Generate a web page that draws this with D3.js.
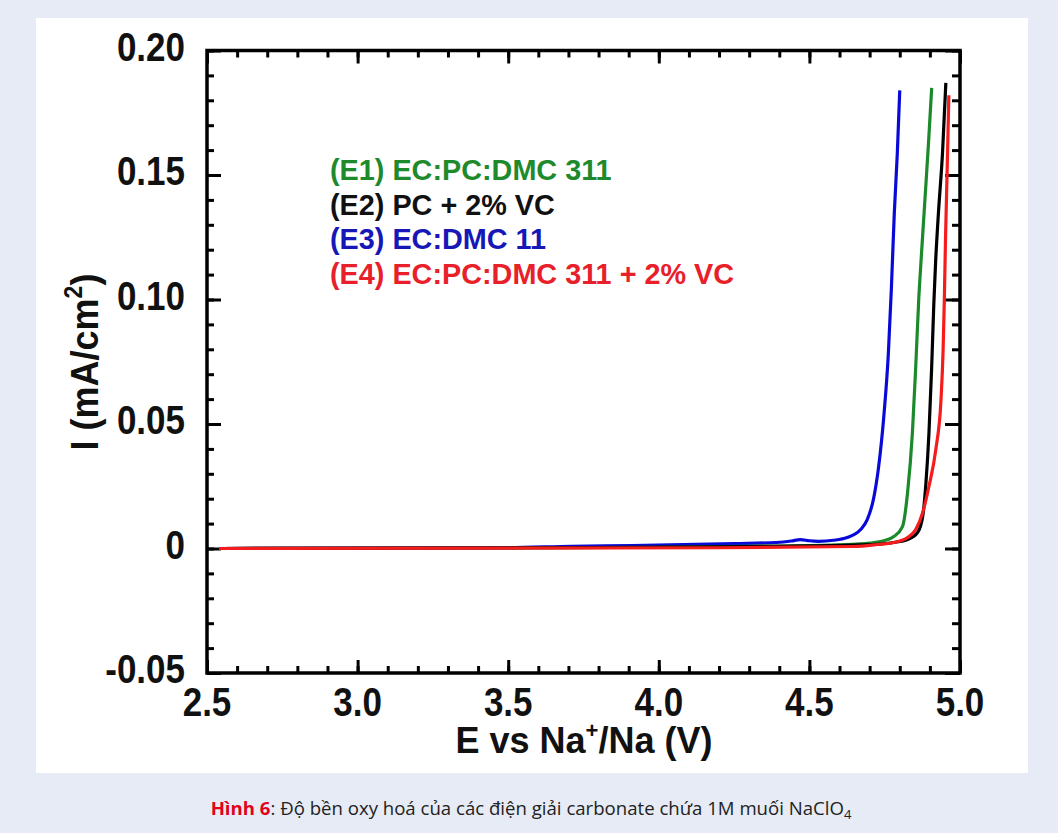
<!DOCTYPE html>
<html>
<head>
<meta charset="utf-8">
<script src="https://cdn.jsdelivr.net/npm/d3@7"></script>
<style>
  body { margin: 0; background: #e6ebf5; }
  svg { display: block; }
</style>
</head>
<body>
<svg id="chart" width="1058" height="833"></svg>
<script>
// datos (E en V, I en mA/cm2)
const e1E = [2.55, 3.5, 4.0, 4.4, 4.6, 4.70, 4.737, 4.78, 4.809, 4.826, 4.842, 4.853, 4.863, 4.872, 4.883, 4.896, 4.906];
const e1I = [0, 0.0002, 0.0005, 0.001, 0.0015, 0.0022, 0.0028, 0.0048, 0.0088, 0.0225, 0.0465, 0.073, 0.100, 0.118, 0.139, 0.164, 0.185];

const e2E = [2.55, 3.8, 4.3, 4.703, 4.78, 4.826, 4.859, 4.876, 4.887, 4.897, 4.906, 4.913, 4.919, 4.928, 4.942, 4.953];
const e2I = [0, 0.0004, 0.0008, 0.0016, 0.0024, 0.0036, 0.0064, 0.0128, 0.0265, 0.0465, 0.073, 0.098, 0.115, 0.134, 0.159, 0.187];

const e3E = [2.55, 3.5, 3.71, 3.91, 4.25, 4.39, 4.44, 4.47, 4.50, 4.53, 4.58, 4.625, 4.67, 4.692, 4.713, 4.73, 4.747, 4.762, 4.772, 4.782, 4.792, 4.800];
const e3I = [0, 0.0003, 0.0009, 0.0012, 0.0020, 0.0024, 0.0030, 0.0036, 0.0031, 0.0029, 0.0033, 0.0044, 0.0076, 0.0116, 0.020, 0.033, 0.053, 0.078, 0.104, 0.135, 0.159, 0.184];

const e4E = [2.54, 4.2, 4.647, 4.726, 4.78, 4.826, 4.853, 4.876, 4.897, 4.920, 4.937, 4.944, 4.948, 4.952, 4.957, 4.963];
const e4I = [0, 0.0003, 0.0008, 0.0016, 0.0024, 0.0044, 0.0076, 0.0144, 0.025, 0.040, 0.060, 0.080, 0.100, 0.125, 0.150, 0.182];

const xTicks = [2.5, 3.0, 3.5, 4.0, 4.5, 5.0];
const xTickLabels = ["2.5", "3.0", "3.5", "4.0", "4.5", "5.0"];
const yTicks = [-0.05, 0, 0.05, 0.10, 0.15, 0.20];
const yTickLabels = ["-0.05", "0", "0.05", "0.10", "0.15", "0.20"];

const legendLabels = [
  "(E1) EC:PC:DMC 311",
  "(E2) PC + 2% VC",
  "(E3) EC:DMC 11",
  "(E4) EC:PC:DMC 311 + 2% VC"
];
const legendColors = ["#1f8a2c", "#111111", "#1717b8", "#e8202a"];

// orden de dibujo: azul, verde, negro, rojo (rojo encima)
const series = [
  { E: e3E, I: e3I, color: "#0a0ad8" },
  { E: e1E, I: e1I, color: "#1b8a2a" },
  { E: e2E, I: e2I, color: "#000000" },
  { E: e4E, I: e4I, color: "#f41c1c" }
];

const svg = d3.select("#chart");
const font = "'Liberation Sans', Arial, Helvetica, sans-serif";

svg.append("rect").attr("width", 1058).attr("height", 833).attr("fill", "#e6ebf5");
svg.append("rect").attr("x", 36).attr("y", 18).attr("width", 992).attr("height", 755).attr("fill", "#ffffff");

const x = d3.scaleLinear().domain([2.5, 5.0]).range([207, 960]);
const y = d3.scaleLinear().domain([-0.05, 0.20]).range([673, 50.5]);

const xMinor = d3.range(25, 51).map((d) => d / 10);
const yMinor = d3.range(-5, 21).map((d) => d / 100);

function tickAxis(axis, tx, ty) {
  const g = svg.append("g").attr("transform", `translate(${tx},${ty})`).call(axis);
  g.select(".domain").remove();
  g.selectAll("line").attr("stroke", "#000").attr("stroke-width", 3);
  return g;
}

// ticks hacia adentro en los cuatro lados
tickAxis(d3.axisBottom(x).tickValues(xMinor).tickSize(-7).tickFormat(""), 0, y(-0.05));
tickAxis(d3.axisBottom(x).tickValues(xTicks).tickSize(-13).tickFormat(""), 0, y(-0.05));
tickAxis(d3.axisTop(x).tickValues(xMinor).tickSize(-7).tickFormat(""), 0, y(0.20));
tickAxis(d3.axisTop(x).tickValues(xTicks).tickSize(-13).tickFormat(""), 0, y(0.20));
tickAxis(d3.axisLeft(y).tickValues(yMinor).tickSize(-7).tickFormat(""), x(2.5), 0);
tickAxis(d3.axisLeft(y).tickValues(yTicks).tickSize(-14).tickFormat(""), x(2.5), 0);
tickAxis(d3.axisRight(y).tickValues(yMinor).tickSize(-8).tickFormat(""), x(5.0), 0);
tickAxis(d3.axisRight(y).tickValues(yTicks).tickSize(-15).tickFormat(""), x(5.0), 0);

// curvas
const line = d3.line()
  .x((d) => x(d[0]))
  .y((d) => y(d[1]))
  .curve(d3.curveMonotoneX);

svg.append("g")
  .selectAll("path")
  .data(series)
  .join("path")
  .attr("d", (s) => line(s.E.map((e, i) => [e, s.I[i]])))
  .attr("fill", "none")
  .attr("stroke", (s) => s.color)
  .attr("stroke-width", 3.2)
  .attr("stroke-linejoin", "round");

// marco
svg.append("rect")
  .attr("x", x(2.5))
  .attr("y", y(0.20))
  .attr("width", x(5.0) - x(2.5))
  .attr("height", y(-0.05) - y(0.20))
  .attr("fill", "none")
  .attr("stroke", "#000")
  .attr("stroke-width", 3.5);

// etiquetas de ticks
svg.append("g")
  .selectAll("text")
  .data(xTicks)
  .join("text")
  .attr("transform", (d) => `translate(${x(d)},716) scale(1,1.15)`)
  .attr("text-anchor", "middle")
  .style("font-family", font)
  .style("font-weight", "bold")
  .style("font-size", "35px")
  .attr("fill", "#111")
  .text((d, i) => xTickLabels[i]);

svg.append("g")
  .selectAll("text")
  .data(yTicks)
  .join("text")
  .attr("transform", (d) => `translate(185,${y(d) + 10}) scale(1,1.15)`)
  .attr("text-anchor", "end")
  .style("font-family", font)
  .style("font-weight", "bold")
  .style("font-size", "35px")
  .attr("fill", "#111")
  .text((d, i) => yTickLabels[i]);

// titulos de ejes
const xTitle = svg.append("text")
  .attr("x", 584)
  .attr("y", 753)
  .attr("text-anchor", "middle")
  .style("font-family", font)
  .style("font-weight", "bold")
  .style("font-size", "36px")
  .attr("fill", "#111");
xTitle.append("tspan").text("E vs Na");
xTitle.append("tspan").attr("dy", -15).style("font-size", "22px").text("+");
xTitle.append("tspan").attr("dy", 15).text("/Na (V)");

const yTitle = svg.append("text")
  .attr("transform", "translate(98,362) rotate(-90) scale(1,1.1)")
  .attr("text-anchor", "middle")
  .style("font-family", font)
  .style("font-weight", "bold")
  .style("font-size", "36px")
  .attr("fill", "#111");
yTitle.append("tspan").text("I (mA/cm");
yTitle.append("tspan").attr("dy", -15).style("font-size", "23px").text("2");
yTitle.append("tspan").attr("dy", 15).text(")");

// leyenda
svg.append("g")
  .selectAll("text")
  .data(legendLabels)
  .join("text")
  .attr("x", 330)
  .attr("y", (d, i) => 180 + i * 34.5)
  .style("font-family", font)
  .style("font-weight", "bold")
  .style("font-size", "28.8px")
  .attr("fill", (d, i) => legendColors[i])
  .text((d) => d);

// pie de figura
const cap = svg.append("text")
  .attr("x", 531)
  .attr("y", 815)
  .attr("text-anchor", "middle")
  .style("font-family", "'Open Sans', 'Noto Sans', sans-serif")
  .style("font-size", "18.6px")
  .attr("fill", "#222");
cap.append("tspan").style("font-weight", "bold").attr("fill", "#e3001b").text("Hình 6");
cap.append("tspan").text(": Độ bền oxy hoá của các điện giải carbonate chứa 1M muối NaClO");
cap.append("tspan").attr("dy", 4).style("font-size", "13px").text("4");
</script>
</body>
</html>
